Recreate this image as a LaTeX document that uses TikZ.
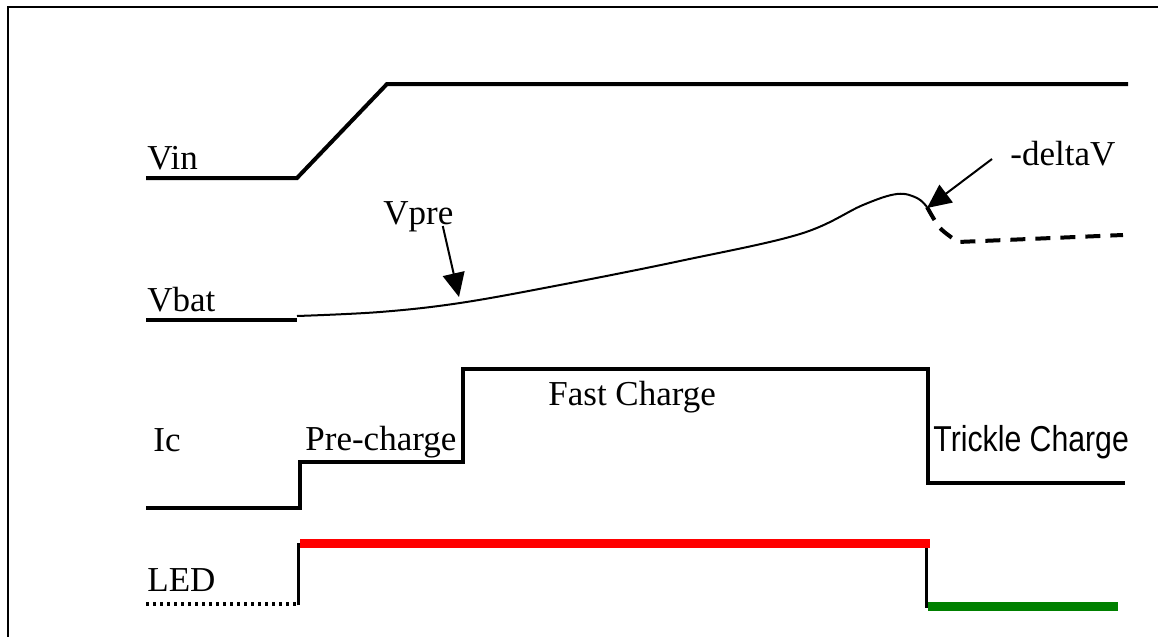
\documentclass[tikz,border=0pt]{standalone}
\usepackage{fontspec}
\setmainfont{Liberation Serif}
\newfontfamily\arialfont{Liberation Sans}
\usetikzlibrary{arrows.meta}

\begin{document}
\begin{tikzpicture}[
    x=0.5pt, y=-0.5pt,
    lbl/.style={anchor=base west, inner sep=0pt, font=\fontsize{17.5}{20}\selectfont},
    sig/.style={line width=2pt},
    vcurve/.style={line width=1pt},
    ledon/.style={line width=4.5pt},
    arr/.style={-{Triangle[length=12pt,width=11pt]}, line width=1pt}
  ]
  \useasboundingbox (0,0) rectangle (1158,637);
  \draw[line width=1pt] (8,637) -- (8,7) -- (1158,7);

  \node[lbl] (vin) at (147,169) {Vin};
  \node[lbl] (vbat) at (147,311) {Vbat};
  \node[lbl] (ic) at (153,451) {Ic};
  \node[lbl] (led) at (147,591) {LED};
  \node[lbl] (vpre) at (383,224) {Vpre};
  \node[lbl] (dv) at (1010,165) {-deltaV};
  \node[lbl] (pre) at (305,450) {Pre-charge};
  \node[lbl] (fast) at (548,405) {Fast Charge};
  \node[lbl,font=\arialfont\fontsize{18}{20}\selectfont] (trk) at (933,451) {\scalebox{0.84}[1]{Trickle Charge}};

  \draw[sig] (146,178) -- (297,178) -- (387,84) -- (1128,84);

  \draw[sig] (146,320) -- (297,320);
  \draw[vcurve] plot[smooth, tension=0.6] coordinates {(297,316) (380,312) (460,303) (560,285)
    (680,261) (800,234) (863,205) (897,194) (917,198) (927,207)};
  \draw[sig,dash pattern=on 7.5pt off 5pt] plot[smooth] coordinates {(927,207) (940,228) (958,242)} -- (1123,235);
  \coordinate (vpretip) at (459,297);
  \coordinate (dvtip) at (927,208);
  \draw[arr] ([xshift=-5.5pt,yshift=-1pt]vpre.base east) -- (vpretip);
  \draw[arr] ([xshift=-9pt,yshift=3pt]dv.base west) -- (dvtip);

  \draw[sig] (146,508) -- (300,508) -- (300,462) -- (463,462) -- (463,369)
    -- (928,369) -- (928,483) -- (1125,483);

  \draw[line width=2pt,dash pattern=on 1.6pt off 1.9pt] (146,604) -- (297,604);
  \draw[line width=1.5pt] (298,605) -- (298,543);
  \draw[ledon,red] (300,543) -- (930,543);
  \draw[line width=1.5pt] (926,548) -- (926,608);
  \draw[ledon,green!50!black] (928,606) -- (1118,606);
\end{tikzpicture}
\end{document}
